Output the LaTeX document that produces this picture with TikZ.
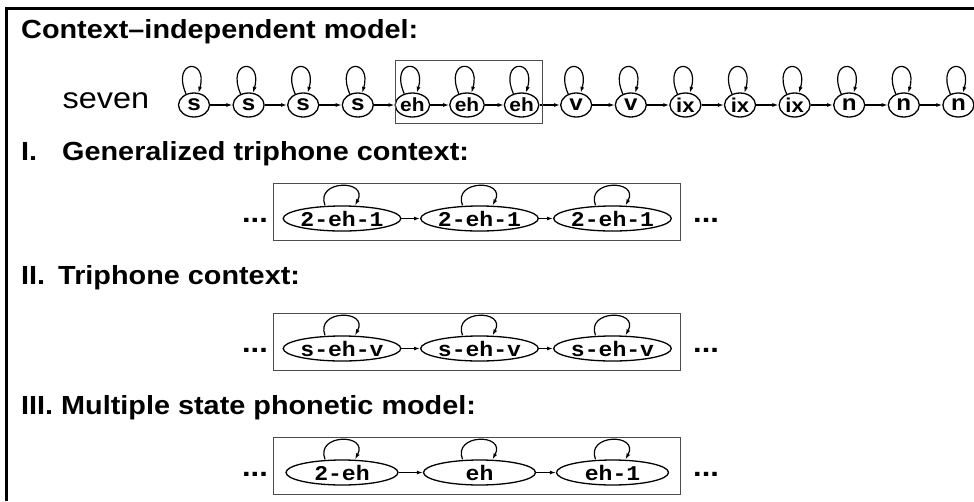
\documentclass[tikz,border=0pt]{standalone}
\usepackage{fontspec}
\setmainfont{Liberation Sans}[FakeStretch=1.1]
\setmonofont{Liberation Mono}[FakeStretch=1.1]
\usetikzlibrary{arrows.meta,shapes.geometric}

\begin{document}
\begin{tikzpicture}[x=1pt,y=-1pt,
  heading/.style={anchor=base west,inner sep=0pt,font=\fontsize{26.2}{30}\selectfont\bfseries},
  word/.style={anchor=base,inner sep=0pt,font=\fontsize{29.5}{32}\selectfont},
  phone/.style={draw,ellipse,line width=1.3pt,minimum width=31pt,minimum height=24pt,inner sep=0pt},
  tri/.style={draw,ellipse,line width=1.3pt,minimum width=112pt,minimum height=25pt,inner sep=0pt,
    font=\fontsize{21}{21}\selectfont\ttfamily\bfseries},
  trans/.style={line width=1.2pt,-{Latex[length=6pt,width=4pt]}},
  selfloop/.style={line width=1.2pt,-{Latex[length=6pt,width=4pt]}},
  group/.style={draw=black!70,line width=1pt},
  dots/.style={inner sep=0pt,font=\fontsize{28}{28}\selectfont\bfseries},
]
\useasboundingbox (0,0) rectangle (974,501);

% outer frame (open to the right and bottom)
\draw[line width=3pt] (6,501) -- (6,8.5) -- (974,8.5);

% ---------- context-independent model ----------
\node[heading] (h0) at (21,38) {Context–independent model:};
\node[word] (seven) at (106,108) {seven};

\foreach \lab/\fs [count=\i from 0] in {s/22,s/22,s/22,s/22,eh/19,eh/19,eh/19,v/22,v/22,ix/20,ix/20,ix/20,n/22,n/22,n/22}
  \node[phone,font=\fontsize{\fs}{\fs}\selectfont\bfseries] (p\i) at (194+54.6*\i,105) {\lab};

\foreach \i in {0,...,14}
  \draw[selfloop] (p\i.126) .. controls +(-15,-35) and +(10,-35) .. (p\i.70);

\foreach \i in {0,...,13}{
  \pgfmathtruncatemacro\j{\i+1}
  \draw[trans] (p\i.east) -- (p\j.west);
}

% the three "eh" states
\draw[group] (395,60) rectangle (542,123);

% ---------- triphone style models ----------
\node[heading] (h1) at (21,160) {\makebox[41pt][l]{I.}Generalized triphone context:};
\node[heading] (h2) at (21,284) {\makebox[37pt][l]{II.}Triphone context:};
\node[heading] (h3) at (21,414) {III. Multiple state phonetic model:};

\foreach \r/\top/\la/\lb/\lc in {a/183/2-eh-1/2-eh-1/2-eh-1, b/313/s-eh-v/s-eh-v/s-eh-v, c/437/2-eh/eh/eh-1}{
  \draw[group] (273,\top) rectangle (680,\top+57);
  \node[tri] (\r1) at (342,\top+35.5) {\la};
  \node[tri] (\r2) at (479.5,\top+35.5) {\lb};
  \node[tri] (\r3) at (612.5,\top+35.5) {\lc};
  \foreach \k in {1,2,3}
    \draw[selfloop] ([xshift=-17pt]\r\k.north) .. controls +(-10,-26) and +(14,-26) .. ([xshift=13pt]\r\k.north);
  \draw[trans] (\r1.east) -- (\r2.west);
  \draw[trans] (\r2.east) -- (\r3.west);
  \node[dots,anchor=base east] (\r L) at (268,\top+39.5) {...};
  \node[dots,anchor=base west] (\r R) at (693,\top+39.5) {...};
}
\end{tikzpicture}
\end{document}
